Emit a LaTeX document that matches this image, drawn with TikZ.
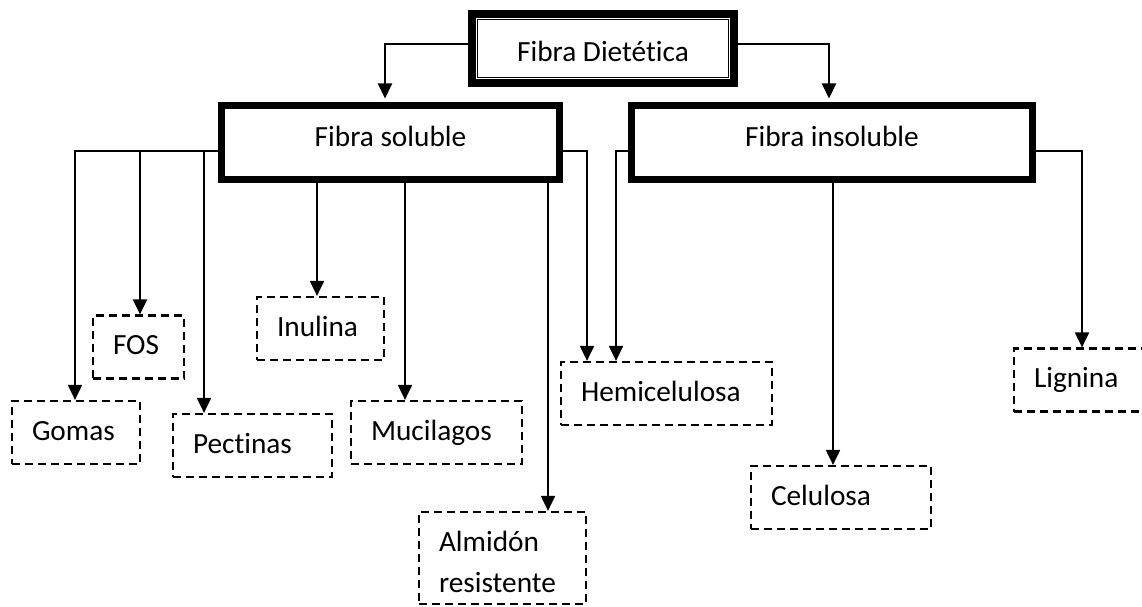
\documentclass[tikz,border=0pt]{standalone}
\usepackage{fontspec}
\setmainfont{Carlito}[Ligatures=NoCommon]
\usetikzlibrary{arrows.meta}

\begin{document}
\begin{tikzpicture}[x=1pt,y=-1pt,
    every node/.style={font=\fontsize{29.3}{41}\selectfont},
    raiz/.style={draw,line width=8pt,inner sep=0pt,text height=26pt,text depth=0pt},
    grupo/.style={draw,line width=7pt,inner sep=0pt,minimum height=74pt,text height=20pt,text depth=12pt},
    caja/.style={draw,line width=2.2pt,dash pattern=on 8pt off 5pt,inner xsep=20pt,inner ysep=0pt,align=left},
    hoja/.style={caja,minimum height=63pt,text height=21pt,text depth=6pt},
    flecha/.style={line width=2pt,-{Triangle[length=15pt,width=14pt]}}]
      \useasboundingbox (0,0) rectangle (1142,607);
      \clip (0,0) rectangle (1142,607);

      \node[raiz,minimum width=262pt,minimum height=69pt] (dieta) at (603,48.5) {Fibra Dietética};
      \draw[line width=1.6pt] (dieta.north west) ++(9.5,9.5) rectangle ([xshift=-9.5pt,yshift=9.5pt]dieta.south east);

      \node[grupo,minimum width=338pt] (soluble) at (390.5,142.5) {Fibra soluble};
      \node[grupo,minimum width=401pt] (insoluble) at (832,142.5) {Fibra insoluble};

      \node[hoja,text width=88pt] (gomas) at (76,432.5) {Gomas};
      \node[hoja,text width=51pt] (fos) at (138.5,347) {FOS};
      \node[hoja,text width=119pt] (pectinas) at (252.5,445.5) {Pectinas};
      \node[hoja,text width=87pt] (inulina) at (320.5,328.5) {Inulina};
      \node[hoja,text width=131pt] (mucilagos) at (436.5,432.5) {Mucilagos};
      \node[caja,text width=127pt,minimum height=92pt] (almidon) at (502.5,558) {\rule{0pt}{29pt}Almidón\\resistente};
      \node[hoja,text width=171pt] (hemi) at (666.5,393.5) {Hemicelulosa};
      \node[hoja,text width=140pt] (celulosa) at (841,497.5) {Celulosa};
      \node[hoja,text width=100pt] (lignina) at (1084,380) {Lignina};

      \draw[flecha,shorten >=3.5pt] ([yshift=4.5pt]dieta.west) -| ([xshift=-5.5pt]soluble.north);
      \draw[flecha,shorten >=3.5pt] ([yshift=4.5pt]dieta.east) -| ([xshift=-3pt]insoluble.north);

      \draw[flecha] ([yshift=-8.5pt]soluble.west) -| (gomas.north -| 75,0);
      \draw[flecha] ([yshift=-8.5pt]soluble.west) -| (fos.north -| 140,0);
      \draw[flecha] ([yshift=-8.5pt]soluble.west) -| (pectinas.north -| 204,0);
      \draw[flecha] (soluble.south -| 317,0) -- (inulina.north -| 317,0);
      \draw[flecha] (soluble.south -| 405,0) -- (mucilagos.north -| 405,0);
      \draw[flecha] (soluble.south -| 548,0) -- (almidon.north -| 548,0);
      \draw[flecha] ([yshift=-8.5pt]soluble.east) -| (hemi.north -| 587,0);

      \draw[flecha] ([yshift=-8.5pt]insoluble.west) -| (hemi.north -| 616,0);
      \draw[flecha] (insoluble.south -| 833,0) -- (celulosa.north -| 833,0);
      \draw[flecha] ([yshift=-8.5pt]insoluble.east) -| (lignina.north -| 1082,0);
\end{tikzpicture}
\end{document}
